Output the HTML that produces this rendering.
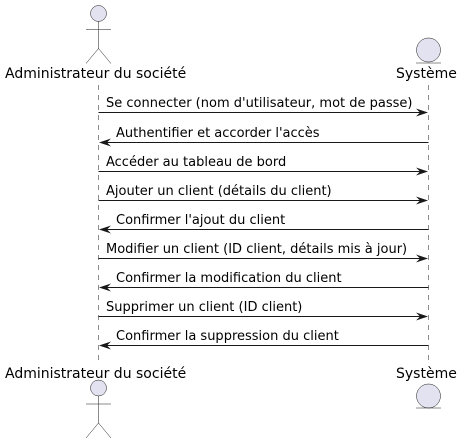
<!DOCTYPE html>
<html><head><meta charset="utf-8"><style>html,body{margin:0;padding:0;background:#fff}</style></head><body>
<svg width="462" height="443" xmlns="http://www.w3.org/2000/svg" font-family="DejaVu Sans, sans-serif">
<g stroke="#181818" stroke-width="0.5" stroke-dasharray="5,5">
<line x1="98.5" y1="85" x2="98.5" y2="360"/>
<line x1="428.5" y1="85" x2="428.5" y2="360"/>
</g>
<!-- top actor -->
<g stroke="#181818" stroke-width="0.5" fill="#E2E2F0">
<circle cx="98.5" cy="13.5" r="8"/>
<path d="M98.5 21.5 V48.5 M86 29.5 H111 M86 63.5 L98.5 48.5 L111 63.5" fill="none"/>
<circle cx="428.5" cy="50" r="12"/>
<line x1="416" y1="63" x2="441" y2="63"/>
<circle cx="98.5" cy="388" r="8"/>
<path d="M98.5 396 V423 M86 404 H111 M86 438 L98.5 423 L111 438" fill="none"/>
<circle cx="428.5" cy="396" r="12"/>
<line x1="416" y1="408" x2="441" y2="408"/>
</g>
<g font-size="14" fill="#000">
<text x="5" y="78">Administrateur du société</text>
<text x="396" y="78">Système</text>
<text x="5" y="378">Administrateur du société</text>
<text x="396" y="378">Système</text>
</g>
<g font-size="13" fill="#000" stroke="#181818">
<g stroke-width="1">
<line x1="98.5" y1="112.5" x2="426" y2="112.5"/>
<line x1="101" y1="142.5" x2="428.5" y2="142.5"/>
<line x1="98.5" y1="171.5" x2="426" y2="171.5"/>
<line x1="98.5" y1="200.5" x2="426" y2="200.5"/>
<line x1="101" y1="229.5" x2="428.5" y2="229.5"/>
<line x1="98.5" y1="258.5" x2="426" y2="258.5"/>
<line x1="101" y1="287.5" x2="428.5" y2="287.5"/>
<line x1="98.5" y1="316.5" x2="426" y2="316.5"/>
<line x1="101" y1="345.5" x2="428.5" y2="345.5"/>
</g>
<g fill="#181818" stroke="none">
<path d="M428 112.5 l-12 -4 l4 4 l-4 4z"/>
<path d="M99 142.5 l12 -4 l-4 4 l4 4z"/>
<path d="M428 171.5 l-12 -4 l4 4 l-4 4z"/>
<path d="M428 200.5 l-12 -4 l4 4 l-4 4z"/>
<path d="M99 229.5 l12 -4 l-4 4 l4 4z"/>
<path d="M428 258.5 l-12 -4 l4 4 l-4 4z"/>
<path d="M99 287.5 l12 -4 l-4 4 l4 4z"/>
<path d="M428 316.5 l-12 -4 l4 4 l-4 4z"/>
<path d="M99 345.5 l12 -4 l-4 4 l4 4z"/>
</g>
<g stroke="none">
<text x="106" y="107">Se connecter (nom d'utilisateur, mot de passe)</text>
<text x="116" y="137">Authentifier et accorder l'accès</text>
<text x="106" y="166">Accéder au tableau de bord</text>
<text x="106" y="195">Ajouter un client (détails du client)</text>
<text x="116" y="224">Confirmer l'ajout du client</text>
<text x="106" y="253">Modifier un client (ID client, détails mis à jour)</text>
<text x="116" y="282">Confirmer la modification du client</text>
<text x="106" y="311">Supprimer un client (ID client)</text>
<text x="116" y="340">Confirmer la suppression du client</text>
</g>
</g>
</svg>
</body></html>
